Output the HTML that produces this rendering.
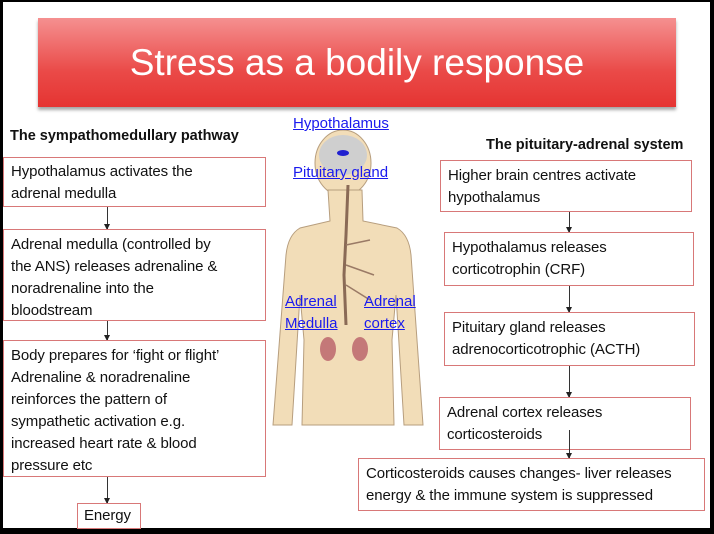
<!DOCTYPE html>
<html><head><meta charset="utf-8"><style>
body{margin:0;width:714px;height:534px;background:#000;overflow:hidden;position:relative;font-family:"Liberation Sans",sans-serif}
#pg{position:absolute;left:3px;top:2px;width:707px;height:526px;background:#fff}
.t{position:absolute;left:38px;top:18px;width:638px;height:89px;background:linear-gradient(#f59090,#ea4a48 60%,#e53432);box-shadow:0 3px 3px rgba(0,0,0,.35);color:#fff;font-size:37px;text-align:center;line-height:89px}
.b{position:absolute;border:1px solid #d87878;box-sizing:border-box;font-size:15px;line-height:22px;padding:4px 7px;color:#111;background:#fff;letter-spacing:-0.1px}
.h{position:absolute;font-weight:bold;font-size:14.5px;color:#111}
.a{position:absolute;width:1px;background:#333}
.a:after{content:"";position:absolute;left:-3px;bottom:-1px;border-left:3.5px solid transparent;border-right:3.5px solid transparent;border-top:6px solid #222}
.l{position:absolute;color:#1a1aee;text-decoration:underline;font-size:15px;line-height:22px}
</style></head><body>
<div id="pg"></div>
<div class="t">Stress as a bodily response</div>
<div class="h" style="left:10px;top:128px">The sympathomedullary pathway</div>
<div class="h" style="left:486px;top:137px">The pituitary-adrenal system</div>
<svg style="position:absolute;left:270px;top:125px" width="160" height="305">
<g fill="#f2ddb8" stroke="#b79e7e" stroke-width="1">
<ellipse cx="73" cy="38" rx="28" ry="33"/>
<path d="M58 65 L60 96 L30 103 Q18 110 16 130 L3 300 L22 300 L30 170 L34 215 L32 300 L124 300 L122 215 L126 170 L134 300 L153 300 L141 130 Q139 110 127 103 L93 96 L92 65 Z"/>
</g>
<ellipse cx="73" cy="30" rx="24" ry="20" fill="#cfcfcf"/>
<ellipse cx="73" cy="28" rx="6" ry="3" fill="#2020d0"/>
<path d="M78 60 L76 110 L74 150 L76 200" stroke="#8a6a56" stroke-width="3" fill="none"/>
<path d="M76 120 L100 115 M76 140 L104 150 M76 160 L100 175" stroke="#9a7a66" stroke-width="1.5" fill="none"/>
<ellipse cx="58" cy="224" rx="8" ry="12" fill="#c47878"/>
<ellipse cx="90" cy="224" rx="8" ry="12" fill="#c47878"/>
</svg>
<div class="l" style="left:293px;top:113px">Hypothalamus</div>
<div class="l" style="left:293px;top:162px">Pituitary gland</div>
<div class="l" style="left:285px;top:291px">Adrenal<br>Medulla</div>
<div class="l" style="left:364px;top:291px">Adrenal<br>cortex</div>

<div class="b" style="left:3px;top:157px;width:263px;height:50px;padding-top:3px">Hypothalamus activates the<br>adrenal medulla</div>
<div class="a" style="left:107px;top:207px;height:22px"></div>
<div class="b" style="left:3px;top:229px;width:263px;height:92px">Adrenal medulla (controlled by<br>the ANS) releases adrenaline &amp;<br>noradrenaline into the<br>bloodstream</div>
<div class="a" style="left:107px;top:321px;height:19px"></div>
<div class="b" style="left:3px;top:340px;width:263px;height:137px">Body prepares for ‘fight or flight’<br>Adrenaline &amp; noradrenaline<br>reinforces the pattern of<br>sympathetic activation e.g.<br>increased heart rate &amp; blood<br>pressure etc</div>
<div class="a" style="left:107px;top:477px;height:26px"></div>
<div class="b" style="left:77px;top:503px;width:64px;height:26px;padding:1px 6px">Energy</div>

<div class="b" style="left:440px;top:160px;width:252px;height:52px">Higher brain centres activate<br>hypothalamus</div>
<div class="a" style="left:569px;top:212px;height:20px"></div>
<div class="b" style="left:444px;top:232px;width:250px;height:54px">Hypothalamus releases<br>corticotrophin (CRF)</div>
<div class="a" style="left:569px;top:286px;height:26px"></div>
<div class="b" style="left:444px;top:312px;width:251px;height:54px">Pituitary gland releases<br>adrenocorticotrophic (ACTH)</div>
<div class="a" style="left:569px;top:366px;height:31px"></div>
<div class="b" style="left:439px;top:397px;width:252px;height:53px">Adrenal cortex releases<br>corticosteroids</div>
<div class="a" style="left:569px;top:430px;height:28px"></div>
<div class="b" style="left:358px;top:458px;width:347px;height:53px">Corticosteroids causes changes- liver releases<br>energy &amp; the immune system is suppressed</div>
</body></html>
